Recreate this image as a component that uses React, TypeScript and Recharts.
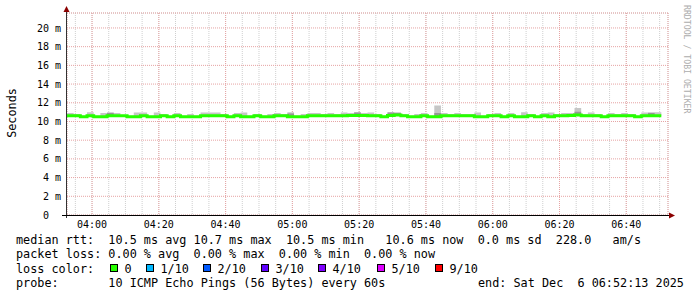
import { ComposedChart, Area, Line, XAxis, YAxis, CartesianGrid } from 'recharts';

const MONO = '"DejaVu Sans Mono", monospace';
const LOSS_0 = '#26ff00';
const SMOKE_LIGHT = '#c6c6c6';
const SMOKE_DARK = '#969696';
const GRID_MAJOR = '#e6a3a3';
const GRID_MINOR = '#cfcfcf';
const ARROW = '#8b0000';

// one sample every 2 minutes, minute 0 = 03:52:30
const SAMPLE_STEP = 2;

// median rtt in ms
const median = [
  10.6, 10.6, 10.5, 10.6, 10.5, 10.5, 10.6, 10.6, 10.6, 10.5,
  10.5, 10.6, 10.5, 10.5, 10.6, 10.5, 10.6, 10.5, 10.5, 10.5,
  10.6, 10.6, 10.6, 10.6, 10.5, 10.6, 10.5, 10.5, 10.6, 10.5,
  10.5, 10.6, 10.6, 10.5, 10.5, 10.5, 10.6, 10.6, 10.6, 10.6,
  10.6, 10.6, 10.65, 10.65, 10.65, 10.6, 10.6, 10.5, 10.65, 10.7,
  10.6, 10.5, 10.5, 10.6, 10.5, 10.5, 10.6, 10.6, 10.6, 10.6,
  10.6, 10.5, 10.5, 10.6, 10.6, 10.5, 10.6, 10.5, 10.5, 10.6,
  10.5, 10.6, 10.5, 10.6, 10.6, 10.65, 10.7, 10.6, 10.6, 10.6,
  10.5, 10.6, 10.6, 10.6, 10.6, 10.5, 10.6, 10.6, 10.6, 10.6,
];

// top of the smoke (slowest pings), ms
const smokeHi = [
  10.9, 10.8, 10.6, 11.0, 10.6, 10.9, 11.0, 10.9, 10.7, 10.6,
  10.95, 10.95, 10.6, 10.95, 10.8, 10.6, 10.9, 10.6, 10.8, 10.6,
  10.95, 10.95, 10.95, 10.8, 10.6, 10.9, 10.95, 10.6, 10.8, 10.6,
  10.8, 10.9, 10.8, 11.0, 10.6, 10.8, 10.9, 10.9, 10.8, 10.9,
  10.8, 10.95, 10.9, 11.0, 10.9, 10.95, 10.8, 10.6, 11.0, 11.0,
  10.8, 10.6, 10.8, 10.9, 10.6, 11.7, 10.9, 10.8, 10.9, 10.8,
  10.8, 10.95, 10.6, 10.8, 10.9, 10.6, 10.9, 10.6, 11.0, 10.8,
  10.6, 10.9, 10.95, 10.8, 10.9, 10.9, 11.45, 10.8, 10.95, 10.8,
  10.6, 10.9, 10.8, 10.9, 10.8, 10.6, 10.95, 11.0, 11.0, 10.8,
];

// darker inner smoke band top, ms
const smokeMid = [
  10.6, 10.6, 10.5, 10.6, 10.5, 10.5, 10.9, 10.6, 10.6, 10.5,
  10.5, 10.6, 10.5, 10.5, 10.6, 10.5, 10.6, 10.5, 10.5, 10.5,
  10.6, 10.6, 10.6, 10.6, 10.5, 10.6, 10.5, 10.5, 10.6, 10.5,
  10.5, 10.6, 10.6, 10.85, 10.5, 10.5, 10.6, 10.6, 10.6, 10.6,
  10.6, 10.6, 10.65, 10.95, 10.65, 10.6, 10.6, 10.5, 10.95, 10.9,
  10.6, 10.5, 10.5, 10.6, 10.5, 10.9, 10.6, 10.6, 10.6, 10.6,
  10.6, 10.5, 10.5, 10.6, 10.6, 10.5, 10.6, 10.5, 10.5, 10.6,
  10.5, 10.6, 10.5, 10.6, 10.6, 10.65, 11.05, 10.6, 10.6, 10.6,
  10.5, 10.6, 10.6, 10.6, 10.6, 10.5, 10.6, 10.9, 10.6, 10.6,
];

const xTickMinutes = [7.5, 27.5, 47.5, 67.5, 87.5, 107.5, 127.5, 147.5, 167.5];
const xTickLabels = ['04:00', '04:20', '04:40', '05:00', '05:20', '05:40', '06:00', '06:20', '06:40'];
const xMinorMinutes = [
  2.5, 7.5, 12.5, 17.5, 22.5, 27.5, 32.5, 37.5, 42.5, 47.5, 52.5, 57.5,
  62.5, 67.5, 72.5, 77.5, 82.5, 87.5, 92.5, 97.5, 102.5, 107.5, 112.5, 117.5,
  122.5, 127.5, 132.5, 137.5, 142.5, 147.5, 152.5, 157.5, 162.5, 167.5, 172.5, 177.5,
];
const yTicks = [0, 2, 4, 6, 8, 10, 12, 14, 16, 18, 20];
const yMinorTicks = [0, 1, 2, 3, 4, 5, 6, 7, 8, 9, 10, 11, 12, 13, 14, 15, 16, 17, 18, 19, 20, 21];

const lossLabels = ['0', '1/10', '2/10', '3/10', '4/10', '5/10', '9/10'];
const lossColors = ['#26ff00', '#00b8ff', '#0059ff', '#5e00ff', '#7e00ff', '#dd00ff', '#ff0000'];
const lossBoxX = [110, 146, 203, 261, 318, 377, 435];

const rows = median.map((m, i) => ({
  minute: i * SAMPLE_STEP,
  median: m,
  smoke: [m, smokeHi[i]],
  smokeDark: [m, smokeMid[i]],
}));

const tickStyle = { fontSize: 10, fontFamily: MONO, fill: '#000' };

// keep runs of spaces in svg text
const pre = (s: string) => s.replace(/ /g, '\u00a0');

export default function App() {
  return (
    <div style={{ position: 'absolute', left: 0, top: 0, width: 697, height: 297, background: '#fff' }}>
      <ComposedChart width={697} height={297} data={rows} margin={{ top: 13, right: 29, bottom: 0, left: 0 }}>
        <XAxis xAxisId="minor" dataKey="minute" type="number" domain={[0, 180]} ticks={xMinorMinutes} interval={0} hide />
        <YAxis yAxisId="minor" type="number" domain={[0, 21.6]} ticks={yMinorTicks} interval={0} hide />
        <CartesianGrid xAxisId="minor" yAxisId="minor" stroke={GRID_MINOR} strokeDasharray="1 1" />
        <XAxis
          dataKey="minute"
          type="number"
          domain={[0, 180]}
          ticks={xTickMinutes}
          interval={0}
          tickFormatter={(v) => xTickLabels[xTickMinutes.indexOf(v)]}
          height={82}
          axisLine={false}
          tickLine={false}
          tickSize={0}
          tickMargin={6}
          tick={tickStyle}
        />
        <YAxis
          type="number"
          domain={[0, 21.6]}
          allowDataOverflow
          ticks={yTicks}
          interval={0}
          tickFormatter={(v) => (v === 0 ? '0\u00a0\u00a0' : `${v} m`)}
          width={67}
          axisLine={false}
          tickLine={false}
          tickSize={0}
          tickMargin={6}
          tick={tickStyle}
        />
        <CartesianGrid stroke={GRID_MAJOR} strokeDasharray="1 1" />
        <Area
          type="stepAfter"
          dataKey="smoke"
          stroke="none"
          fill={SMOKE_LIGHT}
          fillOpacity={1}
          isAnimationActive={false}
        />
        <Area
          type="stepAfter"
          dataKey="smokeDark"
          stroke="none"
          fill={SMOKE_DARK}
          fillOpacity={1}
          isAnimationActive={false}
        />
        <Line
          type="stepAfter"
          dataKey="median"
          stroke={LOSS_0}
          strokeWidth={3}
          dot={false}
          isAnimationActive={false}
        />
      </ComposedChart>

      <svg
        width={697}
        height={297}
        style={{ position: 'absolute', left: 0, top: 0, pointerEvents: 'none' }}
      >
        {/* axes with arrows */}
        <line x1={66.5} y1={218} x2={66.5} y2={11} stroke="#333" />
        <polygon points="63.5,12 69.5,12 66.5,6" fill={ARROW} />
        <line x1={62} y1={215.5} x2={670} y2={215.5} stroke="#000" />
        <polygon points="669,212.5 669,218.5 675,215.5" fill={ARROW} />

        <text
          transform="translate(15.5,113) rotate(-90)"
          textAnchor="middle"
          fontFamily={MONO}
          fontSize={11.8}
          fill="#000"
        >
          Seconds
        </text>
        <text
          transform="translate(684,5) rotate(90)"
          fontFamily={MONO}
          fontSize={8.2}
          fill="#adadad"
        >
          RRDTOOL / TOBI OETIKER
        </text>

        <g fontFamily={MONO} fontSize={11.8} fill="#000">
          <text x={16} y={244.3}>
            {pre('median rtt:  10.5 ms avg 10.7 ms max  10.5 ms min   10.6 ms now  0.0 ms sd  228.0   am/s')}
          </text>
          <text x={16} y={258.3}>
            {pre('packet loss: 0.00 % avg  0.00 % max  0.00 % min  0.00 % now')}
          </text>
          <text x={16} y={272.7}>
            {'loss color:'}
          </text>
          {lossLabels.map((l, i) => (
            <g key={l}>
              <rect x={lossBoxX[i] + 0.5} y={264.5} width={7} height={7} fill={lossColors[i]} stroke="#000" />
              <text x={lossBoxX[i] + 14.5} y={272.7}>{l}</text>
            </g>
          ))}
          <text x={16} y={287.3}>
            {pre('probe:       10 ICMP Echo Pings (56 Bytes) every 60s')}
          </text>
          <text x={478} y={287.3}>
            {pre('end: Sat Dec  6 06:52:13 2025')}
          </text>
        </g>
      </svg>
    </div>
  );
}
